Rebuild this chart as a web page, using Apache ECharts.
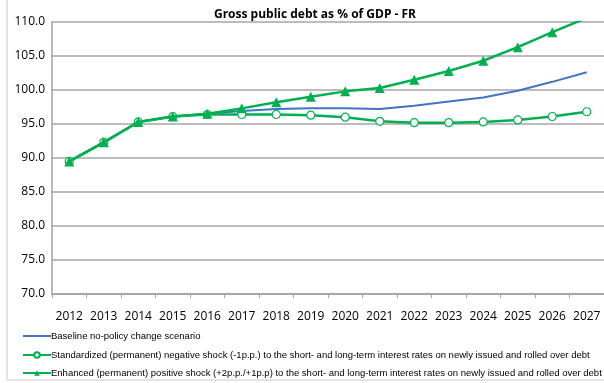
<!DOCTYPE html>
<html><head><meta charset="utf-8">
<script src="https://cdn.jsdelivr.net/npm/echarts@6/dist/echarts.min.js"></script>
<style>html,body{margin:0;padding:0;background:#fff}#c{width:604px;height:383px}</style>
</head><body><div id="c"></div>
<script>
var years = ['2012','2013','2014','2015','2016','2017','2018','2019','2020','2021','2022','2023','2024','2025','2026','2027'];
var baseline = [89.5,92.3,95.3,96.1,96.5,96.9,97.2,97.3,97.3,97.2,97.7,98.3,98.9,99.9,101.2,102.6];
var negShock = [89.5,92.3,95.3,96.1,96.4,96.4,96.4,96.3,96.0,95.4,95.2,95.2,95.3,95.6,96.1,96.8];
var posShock = [89.5,92.3,95.3,96.1,96.5,97.3,98.2,99.0,99.8,100.3,101.5,102.8,104.3,106.3,108.5,110.6];
var yTicks = {min:70, max:110, interval:5};
var names = ['Baseline no-policy change scenario',
 'Standardized (permanent) negative shock (-1p.p.) to the short- and long-term interest rates on newly issued and rolled over debt',
 'Enhanced (permanent) positive shock (+2p.p./+1p.p) to the short- and long-term interest rates on newly issued and rolled over debt'];
var chart = echarts.init(document.getElementById('c'));
var green = '#00B050', blue = '#4472C4';
var legFont = {fontFamily:'Liberation Sans', fontSize:9.5, color:'#000', padding:[0,0,0,-5]};
var legTops = [326, 345, 363];
function mkLegend(i, extra){
  return {orient:'horizontal', left:17, top:legTops[i], itemWidth:28, itemHeight:7,
    textStyle:legFont, data:[Object.assign({name:names[i]}, extra||{})]};
}
chart.setOption({
  animation:false,
  title:{text:'Gross public debt as % of GDP - FR', left:310, textAlign:'center', top:4,
    textStyle:{fontFamily:'Open Sans, Liberation Sans', fontSize:12, fontWeight:'bold', color:'#000'}},
  graphic:[{type:'rect', shape:{x:7,y:-5,width:610,height:385}, style:{fill:'none', stroke:'#c8c8c8', lineWidth:1}, z:-1}],
  grid:{left:52, right:-7, top:22, bottom:89, containLabel:false},
  xAxis:{type:'category', data:years, boundaryGap:true,
    axisLine:{lineStyle:{color:'#a0a0a0', width:1.5}},
    axisTick:{show:true, length:4, lineStyle:{color:'#a0a0a0'}},
    axisLabel:{color:'#000', fontFamily:'Open Sans, Liberation Sans', fontSize:12, margin:17, interval:0}},
  yAxis:{type:'value', min:yTicks.min, max:yTicks.max, interval:yTicks.interval,
    axisLine:{show:true, lineStyle:{color:'#a0a0a0', width:1.5}},
    axisTick:{show:false},
    axisLabel:{color:'#000', fontFamily:'Open Sans, Liberation Sans', fontSize:12, margin:7, formatter:function(v){return v.toFixed(1);}},
    splitLine:{lineStyle:{color:'#a6a6a6', width:1.5}}},
  legend:[mkLegend(0, {itemStyle:{opacity:0}}), mkLegend(1), mkLegend(2)],
  series:[
    {name:names[0], type:'line', data:baseline, symbol:'none', lineStyle:{color:blue, width:2}, itemStyle:{color:blue}, z:3},
    {name:names[1], type:'line', data:negShock, symbol:'circle', symbolSize:8, showSymbol:true,
      lineStyle:{color:green, width:2.5}, itemStyle:{color:'#fff', borderColor:green, borderWidth:1.2}, z:4},
    {name:names[2], type:'line', data:posShock, symbol:'triangle', symbolSize:10,
      lineStyle:{color:green, width:2.5}, itemStyle:{color:green}, z:5}
  ]
});
</script></body></html>
